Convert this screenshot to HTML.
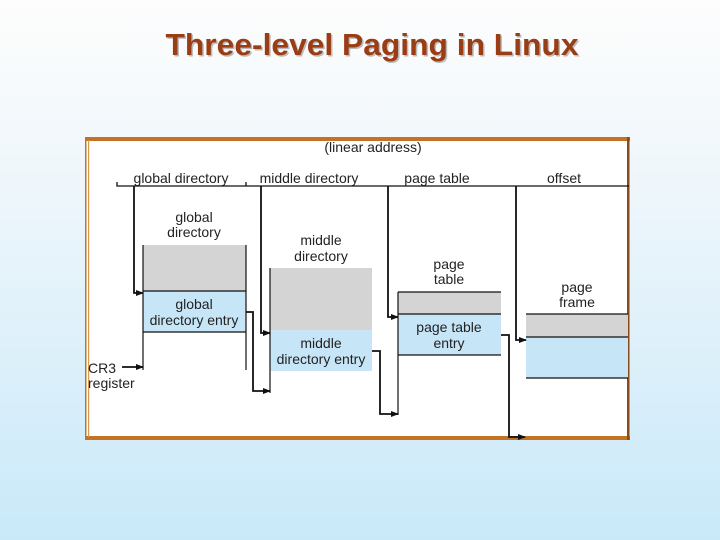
<!DOCTYPE html>
<html><head><meta charset="utf-8"><style>
html,body{margin:0;padding:0;}
body{width:720px;height:540px;overflow:hidden;background:linear-gradient(to bottom,#fdfdfd 0%,#eef6fb 35%,#c9e9f9 100%);font-family:"Liberation Sans",sans-serif;}
</style></head><body>
<svg width="720" height="540" xmlns="http://www.w3.org/2000/svg" style="position:absolute;left:0;top:0">
<defs>
<marker id="a" markerWidth="8" markerHeight="6" refX="7" refY="3" orient="auto" markerUnits="userSpaceOnUse"><path d="M0,0 L8,3 L0,6 z" fill="#111"/></marker>
</defs>
<text x="372" y="55" text-anchor="middle" font-family="Liberation Sans" font-weight="bold" font-size="31" fill="#bbb" transform="translate(1.5,1.5)" textLength="413" lengthAdjust="spacingAndGlyphs">Three-level Paging in Linux</text>
<text x="372" y="55" text-anchor="middle" font-family="Liberation Sans" font-weight="bold" font-size="31" fill="#9a3c14" textLength="413" lengthAdjust="spacingAndGlyphs">Three-level Paging in Linux</text>
<rect x="86" y="138" width="543" height="301" fill="#fff"/>
<rect x="85" y="137" width="545" height="4" fill="#c27424"/>
<rect x="85" y="436" width="545" height="4" fill="#c27424"/>
<rect x="85" y="137" width="1.5" height="303" fill="#c27424"/>
<rect x="88" y="140" width="1.2" height="297" fill="#d89a50"/>
<rect x="627" y="137" width="2.5" height="303" fill="#8a4a1a"/>
<g fill="none" stroke="#111" stroke-width="1.3">
<path d="M117,182 V186 H629"/><path d="M246,182 V186"/>
</g>
<rect x="143" y="245" width="103" height="46" fill="#d4d4d4"/><rect x="143" y="291" width="103" height="41" fill="#c6e6f8"/>
<rect x="270" y="268" width="102" height="62" fill="#d4d4d4"/><rect x="270" y="330" width="102" height="41" fill="#c6e6f8"/>
<rect x="398" y="292" width="103" height="22" fill="#d4d4d4"/><rect x="398" y="314" width="103" height="41" fill="#c6e6f8"/>
<rect x="526" y="314" width="102" height="23" fill="#d4d4d4"/><rect x="526" y="337" width="102" height="41" fill="#c6e6f8"/>
<g fill="none" stroke="#111" stroke-width="1.2">
<path d="M143,245 V370 M246,245 V370 M143,291 H246 M143,332 H246"/>
<path d="M270,268 V393"/>
<path d="M398,292 V415 M398,292 H501 M398,314 H501 M398,355 H501"/>
<path d="M526,314 H628 M526,337 H628 M526,378 H628"/>
</g>
<g fill="none" stroke="#111" stroke-width="1.8" marker-end="url(#a)">
<path d="M134,186 V293 H143"/>
<path d="M122,367 H143"/>
<path d="M246,312 H253 V391 H270"/>
<path d="M261,186 V333 H270"/>
<path d="M372,351 H380 V414 H398"/>
<path d="M388,186 V317 H398"/>
<path d="M501,335 H509 V437 H525"/>
<path d="M516,186 V340 H526"/>
</g>
<g font-family="Liberation Sans" font-size="14" fill="#222" text-anchor="middle">
<text x="373" y="152">(linear address)</text>
<text x="181" y="183">global directory</text>
<text x="309" y="183">middle directory</text>
<text x="437" y="183">page table</text>
<text x="564" y="183">offset</text>
<text x="194" y="222">global</text><text x="194" y="237">directory</text>
<text x="321" y="245">middle</text><text x="321" y="261">directory</text>
<text x="449" y="269">page</text><text x="449" y="284">table</text>
<text x="577" y="292">page</text><text x="577" y="307">frame</text>
<text x="194" y="309">global</text><text x="194" y="325">directory entry</text>
<text x="321" y="348">middle</text><text x="321" y="364">directory entry</text>
<text x="449" y="332">page table</text><text x="449" y="348">entry</text>
<text x="88" y="373" text-anchor="start">CR3</text><text x="88" y="388" text-anchor="start">register</text>
</g>
</svg>
</body></html>
